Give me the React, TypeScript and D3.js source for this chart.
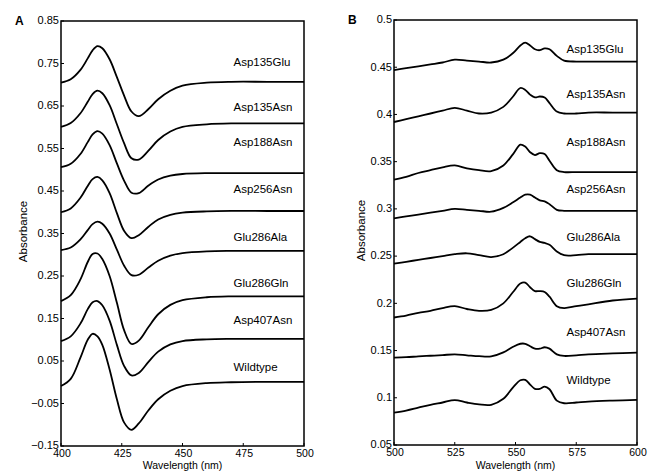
import React from 'react';
import * as d3 from 'd3';

// mutant names, top to bottom
const mutants = ['Asp135Glu', 'Asp135Asn', 'Asp188Asn', 'Asp256Asn', 'Glu286Ala', 'Glu286Gln', 'Asp407Asn', 'Wildtype'];

// ---- panel A (Soret region) ----
const wavelengthsA = [400, 404, 408, 411, 413, 415, 417, 420, 423, 426, 429, 432, 436, 440, 445, 450, 460, 470, 485, 500];

const asp135GluA = [0.705, 0.713, 0.735, 0.762, 0.781, 0.791, 0.786, 0.76, 0.718, 0.674, 0.637, 0.626, 0.643, 0.666, 0.686, 0.698, 0.705, 0.707, 0.707, 0.707];
const asp135AsnA = [0.601, 0.61, 0.633, 0.66, 0.678, 0.686, 0.68, 0.652, 0.607, 0.562, 0.527, 0.524, 0.545, 0.57, 0.59, 0.601, 0.607, 0.609, 0.609, 0.609];
const asp188AsnA = [0.506, 0.514, 0.537, 0.565, 0.583, 0.591, 0.585, 0.558, 0.515, 0.474, 0.446, 0.445, 0.463, 0.477, 0.486, 0.49, 0.492, 0.492, 0.492, 0.492];
const asp256AsnA = [0.4, 0.409, 0.434, 0.462, 0.478, 0.483, 0.475, 0.445, 0.398, 0.356, 0.339, 0.346, 0.366, 0.383, 0.394, 0.399, 0.402, 0.403, 0.403, 0.403];
const glu286AlaA = [0.311, 0.317, 0.336, 0.358, 0.372, 0.378, 0.373, 0.35, 0.312, 0.274, 0.252, 0.253, 0.27, 0.286, 0.298, 0.304, 0.308, 0.309, 0.309, 0.309];
const glu286GlnA = [0.191, 0.205, 0.242, 0.283, 0.302, 0.303, 0.29, 0.25, 0.187, 0.122, 0.09, 0.098, 0.13, 0.16, 0.182, 0.193, 0.2, 0.202, 0.202, 0.202];
const asp407AsnA = [0.097, 0.108, 0.138, 0.172, 0.188, 0.191, 0.181, 0.145, 0.088, 0.038, 0.016, 0.022, 0.048, 0.072, 0.089, 0.097, 0.101, 0.102, 0.102, 0.102];
const wildtypeA = [-0.009, 0.008, 0.058, 0.1, 0.114, 0.108, 0.088, 0.03, -0.04, -0.095, -0.112, -0.097, -0.066, -0.04, -0.02, -0.009, -0.002, 0, 0.001, 0.001];

const labelLevelsA = [0.753, 0.648, 0.565, 0.455, 0.342, 0.234, 0.146, 0.036];
const yTicksA = [0.85, 0.75, 0.65, 0.55, 0.45, 0.35, 0.25, 0.15, 0.05, -0.05, -0.15];
const xTicksA = [400, 425, 450, 475, 500];

// ---- panel B (alpha/beta region) ----
const wavelengthsB = [500, 505, 510, 515, 520, 525, 530, 535, 540, 545, 549, 552, 554, 556, 558, 560, 562, 564, 567, 570, 575, 580, 590, 600];

const asp135GluB = [0.447, 0.449, 0.451, 0.453, 0.455, 0.458, 0.457, 0.456, 0.455, 0.458, 0.465, 0.473, 0.476, 0.473, 0.469, 0.468, 0.47, 0.469, 0.462, 0.457, 0.456, 0.456, 0.456, 0.456];
const asp135AsnB = [0.392, 0.395, 0.398, 0.401, 0.404, 0.407, 0.404, 0.401, 0.402, 0.408, 0.419, 0.428, 0.426, 0.421, 0.418, 0.419, 0.418, 0.412, 0.403, 0.401, 0.401, 0.402, 0.402, 0.402];
const asp188AsnB = [0.331, 0.334, 0.338, 0.341, 0.344, 0.346, 0.343, 0.341, 0.34, 0.346, 0.358, 0.368, 0.366, 0.36, 0.357, 0.359, 0.358, 0.351, 0.341, 0.339, 0.339, 0.339, 0.339, 0.339];
const asp256AsnB = [0.29, 0.292, 0.294, 0.296, 0.298, 0.3, 0.299, 0.298, 0.297, 0.301, 0.307, 0.312, 0.315, 0.315, 0.312, 0.309, 0.308, 0.305, 0.299, 0.298, 0.298, 0.298, 0.298, 0.298];
const glu286AlaB = [0.242, 0.244, 0.246, 0.248, 0.25, 0.252, 0.253, 0.251, 0.249, 0.252, 0.259, 0.265, 0.269, 0.271, 0.268, 0.265, 0.264, 0.262, 0.255, 0.251, 0.251, 0.252, 0.252, 0.252];
const glu286GlnB = [0.185, 0.187, 0.19, 0.192, 0.195, 0.197, 0.194, 0.192, 0.193, 0.2, 0.212, 0.221, 0.222, 0.217, 0.213, 0.213, 0.212, 0.207, 0.197, 0.195, 0.197, 0.199, 0.203, 0.205];
const asp407AsnB = [0.1425, 0.143, 0.1438, 0.1445, 0.1452, 0.146, 0.145, 0.144, 0.1438, 0.148, 0.154, 0.1572, 0.1572, 0.1545, 0.152, 0.152, 0.1535, 0.152, 0.146, 0.1443, 0.145, 0.146, 0.147, 0.1478];
const wildtypeB = [0.0842, 0.0865, 0.0895, 0.0925, 0.095, 0.0976, 0.095, 0.093, 0.0926, 0.099, 0.111, 0.1185, 0.119, 0.114, 0.1095, 0.1095, 0.1118, 0.109, 0.097, 0.0942, 0.095, 0.096, 0.097, 0.0977];

const labelLevelsB = [0.469, 0.422, 0.371, 0.321, 0.27, 0.2215, 0.17, 0.119];
const yTicksB = [0.5, 0.45, 0.4, 0.35, 0.3, 0.25, 0.2, 0.15, 0.1, 0.05];
const xTicksB = [500, 525, 550, 575, 600];

const font = '"Liberation Sans", Arial, sans-serif';

type PanelProps = {
  letter: string;
  left: number;
  right: number;
  top: number;
  bottom: number;
  xDomain: [number, number];
  yDomain: [number, number];
  wavelengths: number[];
  series: number[][];
  labelLevels: number[];
  labelX: number;
  xTicks: number[];
  yTicks: number[];
  yFormat: (v: number) => string;
  titleOffset: number;
};

const Panel = (p: PanelProps) => {
  const x = d3.scaleLinear().domain(p.xDomain).range([p.left, p.right]);
  const y = d3.scaleLinear().domain(p.yDomain).range([p.bottom, p.top]);

  const line = d3
    .line<number>()
    .x((d, i) => x(p.wavelengths[i]))
    .y(d => y(d))
    .curve(d3.curveCatmullRom.alpha(0.5));

  const midY = (p.top + p.bottom) / 2;

  return (
    <g fontFamily={font}>
      {/* curves */}
      {p.series.map((s, i) => (
        <path key={mutants[i]} d={line(s) || ''} fill="none" stroke="#000" strokeWidth={1.8} strokeLinejoin="round" />
      ))}
      {/* curve labels */}
      {mutants.map((m, i) => (
        <text key={m} x={x(p.labelX)} y={y(p.labelLevels[i])} dy="0.35em" fontSize={11.5} fill="#000">
          {m}
        </text>
      ))}
      {/* frame */}
      <rect x={p.left} y={p.top} width={p.right - p.left} height={p.bottom - p.top} fill="none" stroke="#000" strokeWidth={1.5} />
      {/* y ticks */}
      {p.yTicks.map(t => (
        <g key={'y' + t}>
          <line x1={p.left} x2={p.left + 3} y1={y(t)} y2={y(t)} stroke="#000" strokeWidth={1} />
          <text x={p.left - 2} y={y(t)} dy="0.3em" textAnchor="end" fontSize={11}>
            {p.yFormat(t)}
          </text>
        </g>
      ))}
      {/* x ticks */}
      {p.xTicks.map(t => (
        <g key={'x' + t}>
          <line x1={x(t)} x2={x(t)} y1={p.bottom} y2={p.bottom - 3} stroke="#000" strokeWidth={1} />
          <text x={x(t) + 1} y={p.bottom + 10.5} textAnchor="middle" fontSize={10.5}>
            {t}
          </text>
        </g>
      ))}
      {/* axis titles */}
      <text x={(p.left + p.right) / 2} y={468.5} textAnchor="middle" fontSize={10.5}>
        Wavelength (nm)
      </text>
      <text
        transform={`translate(${p.left - p.titleOffset},${midY - 2}) rotate(-90)`}
        textAnchor="middle"
        dy="0.35em"
        fontSize={11.5}
      >
        Absorbance
      </text>
      <text x={p.left - 46} y={p.top + 4} fontSize={12} fontWeight="bold">
        {p.letter}
      </text>
    </g>
  );
};

const App = () => {
  const fmtA = d3.format('.2f');
  const fmtB = d3.format('~g');
  return (
    <svg width={650} height={471} style={{ position: 'absolute', left: 0, top: 0, background: '#fff' }}>
      <rect width={650} height={471} fill="#fff" />
      <Panel
        letter="A"
        left={61}
        right={304}
        top={21}
        bottom={446}
        xDomain={[400, 500]}
        yDomain={[-0.15, 0.85]}
        wavelengths={wavelengthsA}
        series={[asp135GluA, asp135AsnA, asp188AsnA, asp256AsnA, glu286AlaA, glu286GlnA, asp407AsnA, wildtypeA]}
        labelLevels={labelLevelsA}
        labelX={471}
        xTicks={xTicksA}
        yTicks={yTicksA}
        yFormat={fmtA}
        titleOffset={38}
      />
      <Panel
        letter="B"
        left={394}
        right={637}
        top={20}
        bottom={445}
        xDomain={[500, 600]}
        yDomain={[0.05, 0.5]}
        wavelengths={wavelengthsB}
        series={[asp135GluB, asp135AsnB, asp188AsnB, asp256AsnB, glu286AlaB, glu286GlnB, asp407AsnB, wildtypeB]}
        labelLevels={labelLevelsB}
        labelX={571}
        xTicks={xTicksB}
        yTicks={yTicksB}
        yFormat={fmtB}
        titleOffset={33}
      />
    </svg>
  );
};

export default App;
